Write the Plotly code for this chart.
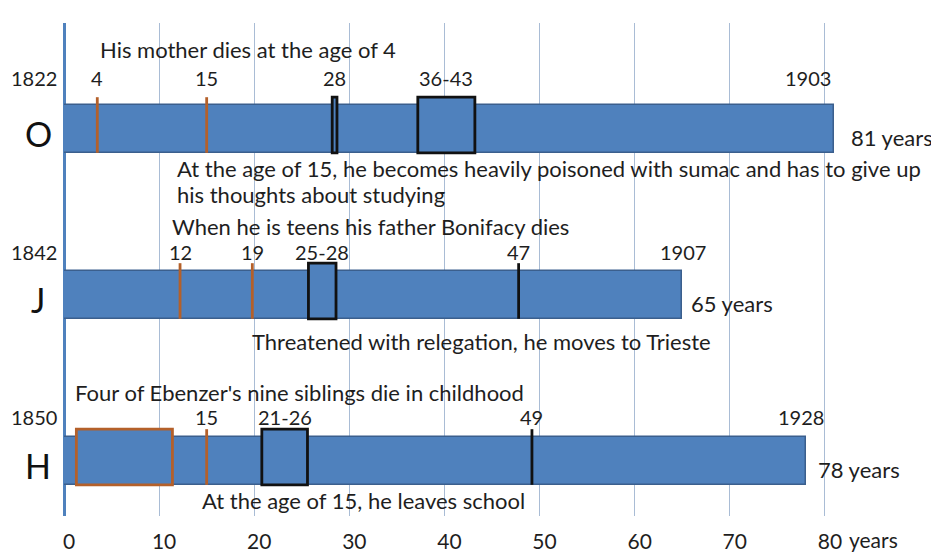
import plotly.graph_objects as go

# ---------------- data ----------------
people = ["O", "J", "H"]
birth_years = [1822, 1842, 1850]
death_years = [1903, 1907, 1928]
lifespans = [81, 65, 78]

# events (ages, as drawn)
event_person = ["O", "O", "O", "O", "J", "J", "J", "J", "H", "H", "H", "H"]
event_start = [3.5, 15.0, 28.2, 37.2, 12.2, 19.8, 25.7, 47.8, 1.3, 15.0, 20.8, 49.2]
event_end = [3.5, 15.0, 28.7, 43.2, 12.2, 19.8, 28.6, 47.8, 11.4, 15.0, 25.6, 49.2]
event_kind = ["orange", "orange", "black", "black", "orange", "orange", "black", "black",
              "orange", "orange", "black", "black"]
event_label = ["4", "15", "28", "36-43", "12", "19", "25-28", "47", "", "15", "21-26", "49"]

# notes
note_person = ["O", "O", "O", "J", "J", "H", "H"]
note_text = [
    "His mother dies at the age of 4",
    "At the age of 15, he becomes heavily poisoned with sumac and has to give up",
    "his thoughts about studying",
    "When he is teens his father Bonifacy dies",
    "Threatened with relegation, he moves to Trieste",
    "Four of Ebenzer's nine siblings die in childhood",
    "At the age of 15, he leaves school",
]
note_x = [3.6, 11.7, 11.7, 11.15, 19.6, 0.95, 14.3]
note_dy = [0.48, -0.237, -0.397, 0.409, -0.28, 0.41, -0.24]

x_ticks = [0, 10, 20, 30, 40, 50, 60, 70, 80]
x_tick_labels = ["0", "10", "20", "30", "40", "50", "60", "70", "80"]

# ---------------- style ----------------
BLUE = "#4F81BD"
BLUE_EDGE = "#3B5F8D"
ORANGE = "#B4602A"
BLACK = "#111111"
TXT = "#1E1E1E"
FONT = "Lato"
NOTE_SIZE = 22
NUM_SIZE = 20
ypos = {p: 2 - i for i, p in enumerate(people)}
label_dy = {"O": 0.305, "J": 0.26, "H": 0.265}
BAR_H = 0.29

fig = go.Figure()
fig.add_trace(go.Bar(
    orientation="h",
    y=[ypos[p] for p in people],
    x=lifespans,
    width=BAR_H,
    marker=dict(color=BLUE, line=dict(color=BLUE_EDGE, width=1.5)),
    hoverinfo="skip",
    showlegend=False,
))

shapes = []
annotations = []
for p, s, e, k, lab in zip(event_person, event_start, event_end, event_kind, event_label):
    yc = ypos[p]
    col = ORANGE if k == "orange" else BLACK
    y0 = yc - BAR_H / 2
    y1 = yc + 0.19
    if s == e:
        shapes.append(dict(type="line", xref="x", yref="y", x0=s, x1=s, y0=y0, y1=y1,
                           line=dict(color=col, width=2.8)))
    else:
        shapes.append(dict(type="rect", xref="x", yref="y", x0=s, x1=e, y0=y0, y1=y1,
                           fillcolor=BLUE, line=dict(color=col, width=2.8)))
    if lab:
        annotations.append(dict(x=(s + e) / 2, y=yc + label_dy[p], xref="x", yref="y", text=lab,
                                showarrow=False, xanchor="center", yanchor="middle",
                                font=dict(size=NUM_SIZE, color=TXT, family=FONT)))

end_label_x = [78.2, 65.1, 77.5]
years_shift = [15, 7, 10]
for i, p in enumerate(people):
    yc = ypos[p]
    annotations.append(dict(x=0, y=yc + label_dy[p], xref="x", yref="y", text=str(birth_years[i]),
                            showarrow=False, xanchor="right", yanchor="middle", xshift=-5,
                            font=dict(size=NUM_SIZE, color=TXT, family=FONT)))
    annotations.append(dict(x=end_label_x[i], y=yc + label_dy[p], xref="x", yref="y",
                            text=str(death_years[i]), showarrow=False, xanchor="center",
                            yanchor="middle", font=dict(size=NUM_SIZE, color=TXT, family=FONT)))
    annotations.append(dict(x=lifespans[i], y=yc - 0.05, xref="x", yref="y",
                            text=f"{lifespans[i]} years", showarrow=False, xanchor="left",
                            yanchor="middle", xshift=years_shift[i],
                            font=dict(size=NOTE_SIZE, color=TXT, family=FONT)))
    annotations.append(dict(x=-0.030, y=yc - 0.03, xref="paper", yref="y", text=p,
                            showarrow=False, xanchor="center", yanchor="middle",
                            font=dict(size=34, color="#111", family=FONT)))

for p, t, x, dy in zip(note_person, note_text, note_x, note_dy):
    annotations.append(dict(x=x, y=ypos[p] + dy, xref="x", yref="y", text=t,
                            showarrow=False, xanchor="left", yanchor="middle",
                            font=dict(size=NOTE_SIZE, color=TXT, family=FONT)))

annotations.append(dict(x=80, y=0, xref="x", yref="paper", text="years", showarrow=False,
                        xanchor="left", yanchor="top", xshift=22, yshift=-9,
                        font=dict(size=NUM_SIZE + 1, color=TXT, family=FONT)))

# the page body has an 8px default left margin, so the figure is 8px narrower
fig.update_layout(
    width=931, height=557,
    margin=dict(l=56, r=19, t=15, b=34),
    plot_bgcolor="white", paper_bgcolor="white",
    shapes=shapes, annotations=annotations,
    bargap=0,
    xaxis=dict(range=[0, 90], tickvals=x_ticks, ticktext=x_tick_labels,
               showgrid=True, gridcolor="#A9BCD5", gridwidth=1,
               zeroline=True, zerolinecolor=BLUE, zerolinewidth=3,
               showline=False, ticks="", ticklabelshift=5, ticklabelstandoff=11,
               tickfont=dict(size=NUM_SIZE + 1, color=TXT, family=FONT), fixedrange=True),
    yaxis=dict(range=[-0.333, 2.637], showgrid=False, zeroline=False, showticklabels=False,
               showline=False, fixedrange=True),
    showlegend=False,
)

fig.write_html("out.html")
